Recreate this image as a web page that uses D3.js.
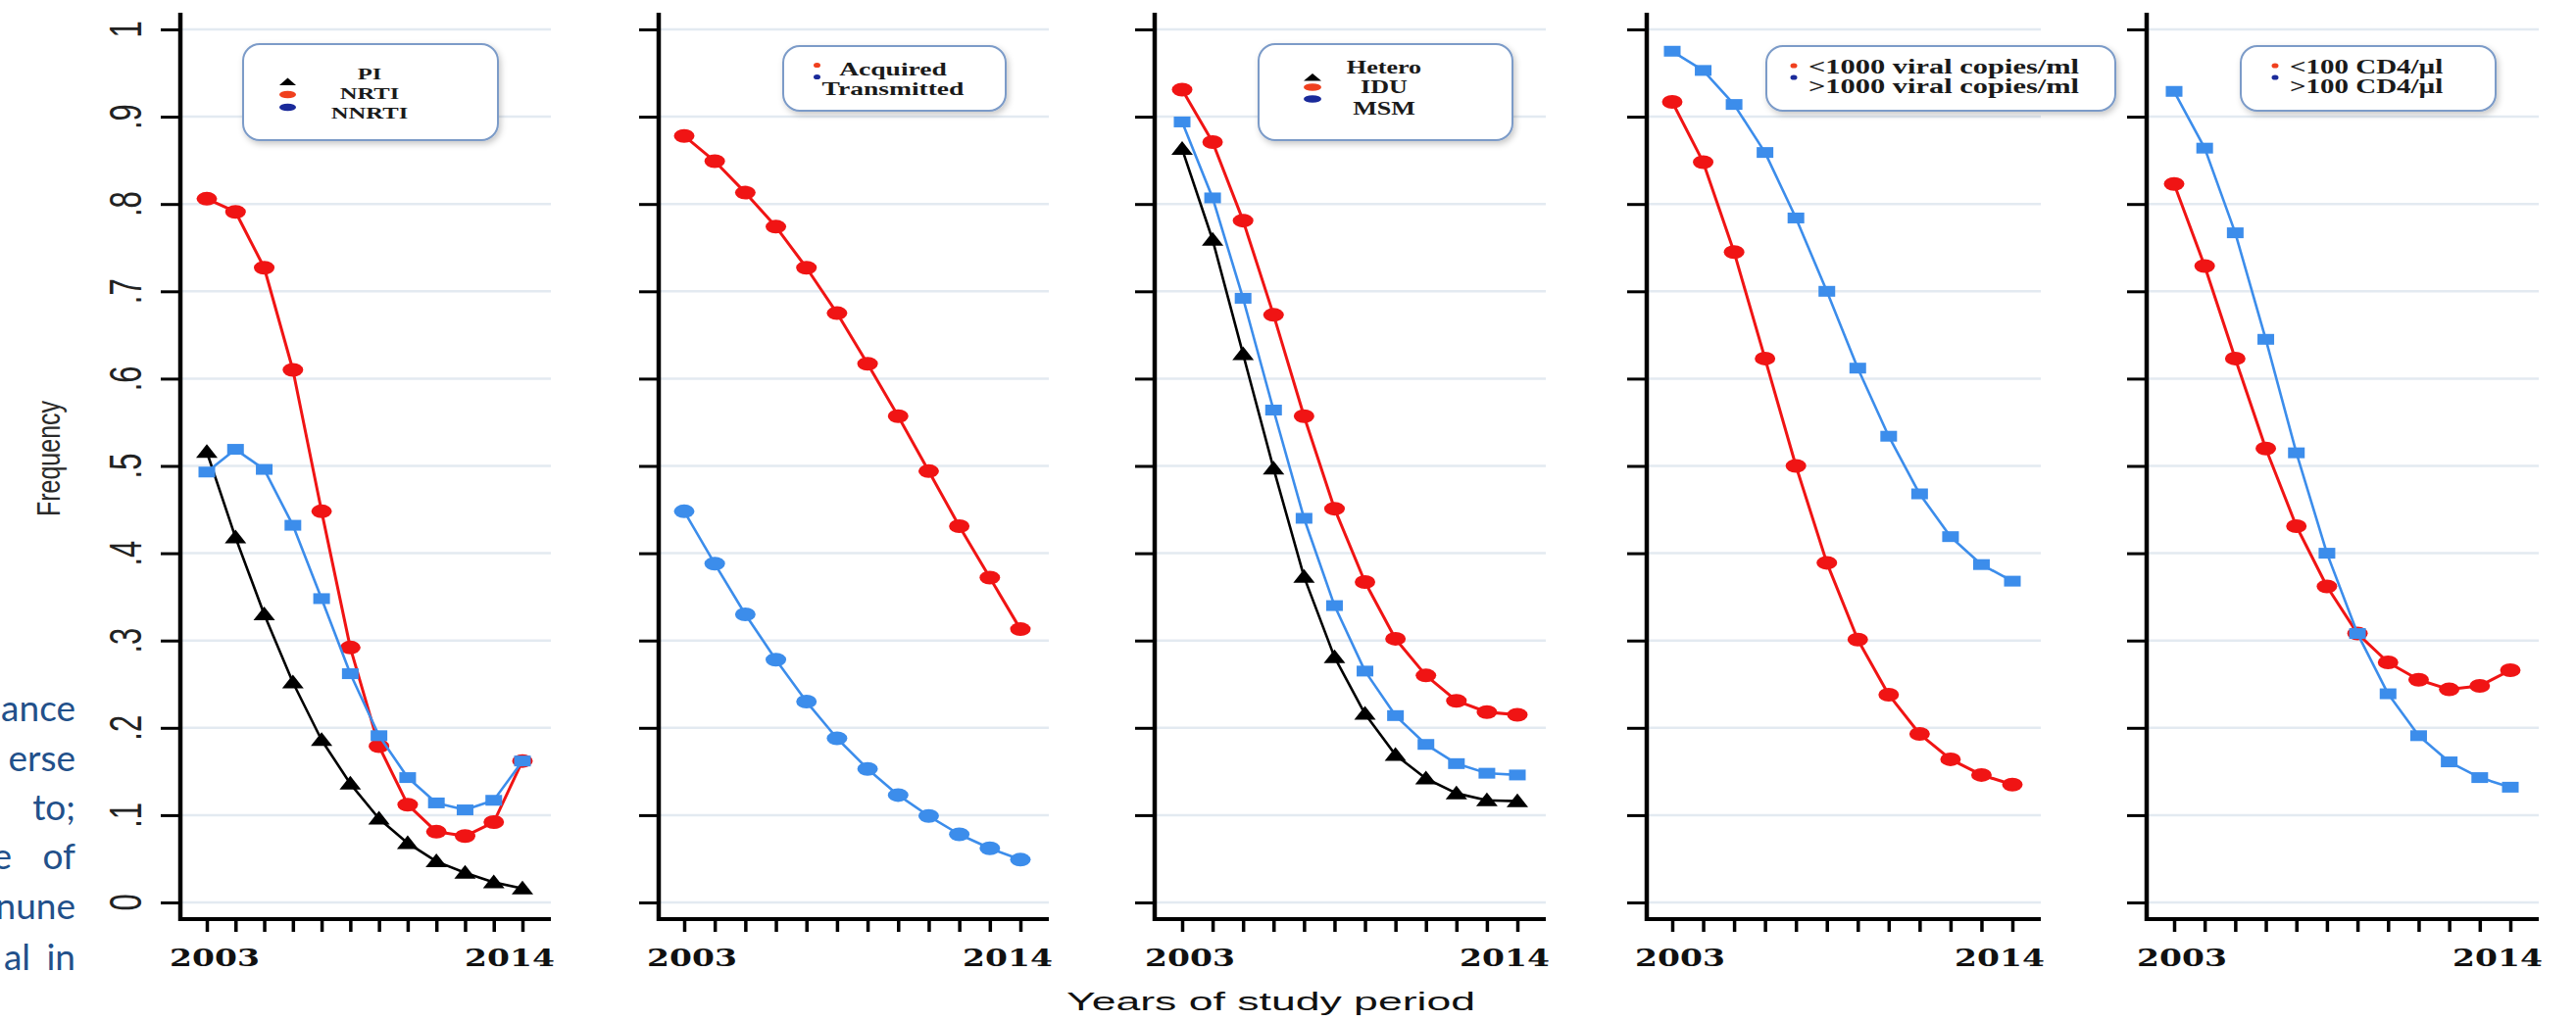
<!DOCTYPE html>
<html>
<head>
<meta charset="utf-8">
<script src="https://cdn.jsdelivr.net/npm/d3@7"></script>
<style>
html, body { margin: 0; padding: 0; background: #ffffff; }
svg { display: block; }
</style>
</head>
<body>
<svg id="chart" width="2628" height="1042"></svg>
<script>
// ---------------- DATA ----------------
const years = [2003, 2004, 2005, 2006, 2007, 2008, 2009, 2010, 2011, 2012, 2013, 2014];
const xTickLabels = ["2003", "2014"];
const yTickValues = [0, 0.1, 0.2, 0.3, 0.4, 0.5, 0.6, 0.7, 0.8, 0.9, 1];
const yTickLabels = ["0", ".1", ".2", ".3", ".4", ".5", ".6", ".7", ".8", ".9", "1"];

// Panel 1: drug class
const piValues    = [0.516, 0.418, 0.330, 0.252, 0.186, 0.136, 0.096, 0.068, 0.047, 0.034, 0.023, 0.016];
const nrtiValues  = [0.806, 0.791, 0.727, 0.610, 0.448, 0.292, 0.179, 0.112, 0.081, 0.076, 0.092, 0.162];
const nnrtiValues = [0.493, 0.519, 0.496, 0.432, 0.348, 0.262, 0.191, 0.143, 0.114, 0.106, 0.117, 0.162];
// Panel 2: acquired vs transmitted
const acquiredValues    = [0.878, 0.849, 0.813, 0.774, 0.727, 0.675, 0.617, 0.557, 0.494, 0.431, 0.372, 0.313];
const transmittedValues = [0.448, 0.388, 0.330, 0.278, 0.230, 0.188, 0.153, 0.123, 0.099, 0.078, 0.062, 0.049];
// Panel 3: risk group
const heteroValues = [0.863, 0.759, 0.628, 0.497, 0.373, 0.281, 0.216, 0.169, 0.142, 0.125, 0.117, 0.116];
const iduValues    = [0.931, 0.871, 0.781, 0.673, 0.557, 0.451, 0.367, 0.302, 0.260, 0.231, 0.218, 0.215];
const msmValues    = [0.894, 0.807, 0.692, 0.564, 0.440, 0.340, 0.265, 0.214, 0.181, 0.159, 0.148, 0.146];
// Panel 4: viral load
const viralLowValues  = [0.917, 0.848, 0.745, 0.623, 0.500, 0.389, 0.301, 0.238, 0.193, 0.164, 0.146, 0.135];
const viralHighValues = [0.975, 0.953, 0.914, 0.859, 0.784, 0.700, 0.612, 0.534, 0.468, 0.419, 0.387, 0.368];
// Panel 5: CD4
const cd4LowValues  = [0.823, 0.729, 0.623, 0.520, 0.431, 0.362, 0.308, 0.275, 0.255, 0.244, 0.248, 0.266];
const cd4HighValues = [0.929, 0.864, 0.767, 0.645, 0.515, 0.400, 0.308, 0.239, 0.191, 0.161, 0.143, 0.132];

// Legend labels
const legend1Labels = ["PI", "NRTI", "NNRTI"];
const legend2Labels = ["Acquired", "Transmitted"];
const legend3Labels = ["Hetero", "IDU", "MSM"];
const legend4Labels = ["<1000 viral copies/ml", ">1000 viral copies/ml"];
const legend5Labels = ["<100 CD4/\u00b5l", ">100 CD4/\u00b5l"];

const yAxisTitle = "Frequency";
const xAxisTitle = "Years of study period";
const sideTextLines = [["ance"], ["erse"], ["to;"], ["e", "of"], ["nune"], ["al", "in"]];

// ---------------- STYLE / LAYOUT ----------------
const RED = "#f01414";
const BLUE = "#3c8deb";
const BLACK = "#000000";
const LEG_RED = "#f0401e";
const LEG_NAVY = "#1a2a9a";
const GRID = "#e3eaf1";
const SX = 1.45; // horizontal stretch of the original picture

const svg = d3.select("#chart");
const defs = svg.append("defs");
const f = defs.append("filter").attr("id", "shadow").attr("x", "-10%").attr("y", "-20%").attr("width", "130%").attr("height", "150%");
f.append("feDropShadow").attr("dx", 2).attr("dy", 3).attr("stdDeviation", 3).attr("flood-color", "#000").attr("flood-opacity", 0.22);

const y = d3.scaleLinear().domain([0, 1]).range([921, 30]);
const xAxisY = 938;
const yAxisTop = 13;

const series = (values, marker, color) => ({ values, marker, color });

const panels = [
  { axisX: 184, x0: 211, x1: 533, yLabels: true,
    series: [series(piValues, "tri", BLACK), series(nrtiValues, "circle", RED), series(nnrtiValues, "square", BLUE)],
    legend: { box: [248, 45, 260, 98], labels: legend1Labels, anchor: "middle", textX: 377, baselines: [81, 101, 121], size: 17,
              marks: [{type: "tri", color: BLACK, cy: 83.5}, {type: "ell", color: LEG_RED, cy: 96.5}, {type: "ell", color: LEG_NAVY, cy: 109.5}], markX: 293.5, markW: 17 } },
  { axisX: 672, x0: 698, x1: 1041,
    series: [series(acquiredValues, "circle", RED), series(transmittedValues, "circle", BLUE)],
    legend: { box: [799, 47, 227, 66], labels: legend2Labels, anchor: "middle", textX: 911, baselines: [77, 97], size: 19,
              marks: [{type: "ell", color: LEG_RED, cy: 66.5}, {type: "ell", color: LEG_NAVY, cy: 78.5}], markX: 833.5, markW: 7 } },
  { axisX: 1178, x0: 1206, x1: 1548,
    series: [series(heteroValues, "tri", BLACK), series(iduValues, "circle", RED), series(msmValues, "square", BLUE)],
    legend: { box: [1284, 45, 259, 98], labels: legend3Labels, anchor: "middle", textX: 1412, baselines: [75, 95, 117], size: 18,
              marks: [{type: "tri", color: BLACK, cy: 79}, {type: "ell", color: LEG_RED, cy: 89}, {type: "ell", color: LEG_NAVY, cy: 101}], markX: 1339, markW: 18 } },
  { axisX: 1680, x0: 1706, x1: 2053,
    series: [series(viralLowValues, "circle", RED), series(viralHighValues, "square", BLUE)],
    legend: { box: [1802, 47, 356, 66], labels: legend4Labels, anchor: "start", textX: 1845, baselines: [75, 95], size: 21,
              marks: [{type: "ell", color: LEG_RED, cy: 67}, {type: "ell", color: LEG_NAVY, cy: 79}], markX: 1830, markW: 7 } },
  { axisX: 2190, x0: 2218, x1: 2561,
    series: [series(cd4LowValues, "circle", RED), series(cd4HighValues, "square", BLUE)],
    legend: { box: [2286, 47, 260, 66], labels: legend5Labels, anchor: "start", textX: 2336, baselines: [75, 95], size: 20,
              marks: [{type: "ell", color: LEG_RED, cy: 67}, {type: "ell", color: LEG_NAVY, cy: 79}], markX: 2321, markW: 7 } }
];

function drawMarker(g, type, cx, cy, color) {
  if (type === "circle") {
    g.append("ellipse").attr("cx", cx).attr("cy", cy).attr("rx", 10.5).attr("ry", 7).attr("fill", color);
  } else if (type === "square") {
    g.append("rect").attr("x", cx - 8.5).attr("y", cy - 5.5).attr("width", 17).attr("height", 11).attr("fill", color);
  } else if (type === "tri") {
    g.append("path").attr("d", `M${cx - 11},${cy + 6} L${cx + 11},${cy + 6} L${cx},${cy - 8} Z`).attr("fill", color);
  }
}

panels.forEach((p, pi) => {
  const g = svg.append("g").attr("class", "panel-" + pi);
  const x = d3.scaleLinear().domain([years[0], years[years.length - 1]]).range([p.x0, p.x1]);
  const rightEnd = p.x1 + 29;

  // gridlines
  g.append("g").selectAll("line").data(yTickValues).join("line")
    .attr("x1", p.axisX).attr("x2", rightEnd)
    .attr("y1", d => y(d)).attr("y2", d => y(d))
    .attr("stroke", GRID).attr("stroke-width", 2.5);

  // y axis ticks (d3 axis)
  const yAxis = d3.axisLeft(y).tickValues(yTickValues).tickSize(20).tickSizeOuter(0).tickFormat("");
  const ya = g.append("g").attr("transform", `translate(${p.axisX},0)`).call(yAxis);
  ya.select(".domain").remove();
  ya.selectAll(".tick line").attr("stroke", BLACK).attr("stroke-width", 3);

  // x axis ticks
  const xAxis = d3.axisBottom(x).tickValues(years).tickSize(13).tickSizeOuter(0).tickFormat("");
  const xa = g.append("g").attr("transform", `translate(0,${xAxisY})`).call(xAxis);
  xa.select(".domain").remove();
  xa.selectAll(".tick line").attr("stroke", BLACK).attr("stroke-width", 3.5);

  // axis lines
  g.append("line").attr("x1", p.axisX).attr("x2", p.axisX).attr("y1", yAxisTop).attr("y2", xAxisY + 2)
    .attr("stroke", BLACK).attr("stroke-width", 4.5);
  g.append("line").attr("x1", p.axisX - 2).attr("x2", rightEnd).attr("y1", xAxisY).attr("y2", xAxisY)
    .attr("stroke", BLACK).attr("stroke-width", 4);

  // x tick labels (first and last year)
  const labelYears = [years[0], years[years.length - 1]];
  const labelOffsets = [8, -13];
  labelYears.forEach((yr, i) => {
    g.append("text").text(xTickLabels[i])
      .attr("font-family", "DejaVu Serif").attr("font-weight", "bold").attr("font-size", 25)
      .attr("text-anchor", "middle").attr("fill", "#111")
      .attr("transform", `translate(${x(yr) + labelOffsets[i]},986) scale(1.32,1)`);
  });

  // y tick labels
  if (p.yLabels) {
    g.append("g").selectAll("text").data(yTickValues).join("text")
      .text((d, i) => yTickLabels[i])
      .attr("font-family", "Liberation Sans, Arial, sans-serif").attr("font-size", 31)
      .attr("text-anchor", "middle").attr("fill", "#222")
      .attr("transform", d => `translate(144,${y(d)}) scale(1.5,1) rotate(-90)`);
  }

  // series
  const line = d3.line().x((d, i) => x(years[i])).y(d => y(d));
  p.series.forEach(s => {
    const sg = g.append("g");
    sg.append("path").datum(s.values).attr("d", line)
      .attr("fill", "none").attr("stroke", s.color)
      .attr("stroke-width", s.color === RED ? 3 : 2.6).attr("stroke-linejoin", "round");
    s.values.forEach((v, i) => drawMarker(sg, s.marker, x(years[i]), y(v), s.color));
  });

  // legend
  const L = p.legend;
  const lg = g.append("g");
  lg.append("rect").attr("x", L.box[0]).attr("y", L.box[1]).attr("width", L.box[2]).attr("height", L.box[3])
    .attr("rx", 17).attr("ry", 17).attr("fill", "#fff").attr("stroke", "#7b9bc8").attr("stroke-width", 2)
    .attr("filter", "url(#shadow)");
  L.marks.forEach(m => {
    if (m.type === "tri") {
      const w = L.markW / 2;
      lg.append("path").attr("d", `M${L.markX - w},${m.cy + 3.5} L${L.markX + w},${m.cy + 3.5} L${L.markX},${m.cy - 4} Z`).attr("fill", m.color);
    } else {
      lg.append("ellipse").attr("cx", L.markX).attr("cy", m.cy).attr("rx", L.markW / 2).attr("ry", L.markW > 10 ? 3.8 : 2.6).attr("fill", m.color);
    }
  });
  L.labels.forEach((lab, i) => {
    lg.append("text").text(lab)
      .attr("font-family", "Liberation Serif, Times New Roman, serif").attr("font-weight", "bold")
      .attr("font-size", L.size).attr("fill", "#1a1a1a").attr("text-anchor", L.anchor)
      .attr("transform", `translate(${L.textX},${L.baselines[i]}) scale(${SX},1)`);
  });
});

// Y axis title
svg.append("text").text(yAxisTitle)
  .attr("font-family", "Liberation Sans, Arial, sans-serif").attr("font-size", 25)
  .attr("text-anchor", "middle").attr("fill", "#2a2a2a")
  .attr("transform", `translate(61,468) scale(1.3,1) rotate(-90)`);

// X axis title
svg.append("text").text(xAxisTitle)
  .attr("font-family", "Liberation Sans, Arial, sans-serif").attr("font-size", 26)
  .attr("x", 1088).attr("y", 1031).attr("fill", "#111")
  .attr("textLength", 417).attr("lengthAdjust", "spacingAndGlyphs");

// partial paragraph on the left edge (cut off by the page edge, as in the source)
const sideBaselines = [736, 787, 837, 887, 938, 990];
const sideWordEnds = [[77], [77], [77], [12, 77], [77], [31, 77]];
sideTextLines.forEach((words, li) => {
  words.forEach((w, wi) => {
    svg.append("text").text(w)
      .attr("font-family", "Lato, 'Open Sans', sans-serif").attr("font-size", 37)
      .attr("fill", "#22508a").attr("text-anchor", "end")
      .attr("x", sideWordEnds[li][wi]).attr("y", sideBaselines[li]);
  });
});
</script>
</body>
</html>
